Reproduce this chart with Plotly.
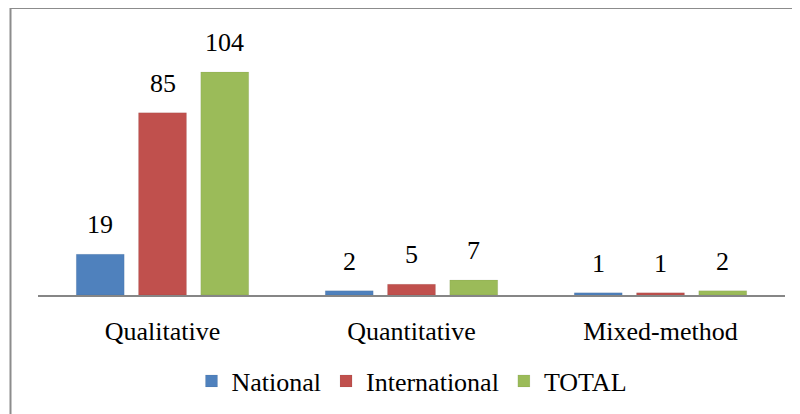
import plotly.graph_objects as go

categories = ["Qualitative", "Quantitative", "Mixed-method"]
series_names = ["National", "International", "TOTAL"]
national = [19, 2, 1]
international = [85, 5, 1]
total = [104, 7, 2]

colors = ["#4F81BD", "#C0504D", "#9BBB59"]
serif = "Liberation Serif"

# page has an 8px body margin, so the figure is 8px smaller than the window
off = 8
W, H = 800 - off, 414 - off
ml, mr, mt, mb = 38 - off, 15, 12, 119
pw, ph = W - ml - mr, H - mt - mb
ymax = 104 * ph / 223.0

fig = go.Figure()
for name, vals, col in zip(series_names, [national, international, total], colors):
    fig.add_trace(go.Bar(x=categories, y=vals, name=name,
                         marker=dict(color=col, line=dict(color="rgba(0,0,0,0.06)", width=1))))

# data labels above bars
slot = pw / len(categories) * 0.75 / 3
for i, vals in enumerate([national, international, total]):
    for c, v in zip(categories, vals):
        fig.add_annotation(x=c, y=v, text=str(v), showarrow=False,
                           xshift=(i - 1) * slot, yshift=13, yanchor="bottom",
                           font=dict(family=serif, size=26, color="black"))

# chart frame (top and left edges visible)
x0 = (10.5 - off - ml) / pw
x1 = (W - ml) / pw
y0 = -mb / ph
y1 = (mt + ph) / ph
fig.add_shape(type="line", xref="paper", yref="paper", x0=x0, x1=x1, y0=y1, y1=y1,
              line=dict(color="#8C8C8C", width=2))
fig.add_shape(type="line", xref="paper", yref="paper", x0=x0, x1=x0, y0=y0, y1=y1,
              line=dict(color="#8C8C8C", width=2))

fig.update_layout(
    width=W, height=H,
    margin=dict(l=ml, r=mr, t=mt, b=mb, autoexpand=False),
    paper_bgcolor="white", plot_bgcolor="white",
    barmode="group", bargap=0.25, bargroupgap=0.23,
    font=dict(family=serif, size=26, color="black"),
    legend=dict(orientation="h", xanchor="center", x=(412 - off - ml) / pw,
                yanchor="middle", y=-(381 - off - mt - ph) / ph,
                font=dict(family=serif, size=26), itemwidth=30,
                traceorder="normal"),
)
fig.update_xaxes(showline=True, linecolor="#868686", linewidth=2, ticks="",
                 showgrid=False, ticklabelstandoff=12,
                 tickfont=dict(family=serif, size=26))
fig.update_yaxes(range=[0, ymax], visible=False, showgrid=False, zeroline=False)

fig.write_html("out.html")
